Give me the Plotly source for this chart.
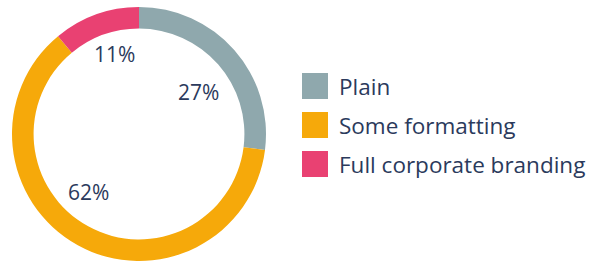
import plotly.graph_objects as go

categories = ["Plain", "Some formatting", "Full corporate branding"]
values = [27, 62, 11]
colors = ["#8fa8ad", "#f6a90a", "#e94172"]
pct_labels = ["27%", "62%", "11%"]

W, H = 592, 261
TEXT = "#2b3a5c"
FONT = "Open Sans"

# pixel helpers (layout only)
def px(x):
    return x / W

def py(y):
    return 1 - y / H

fig = go.Figure()
fig.add_trace(go.Pie(
    labels=categories,
    values=values,
    marker=dict(colors=colors, line=dict(width=0)),
    hole=0.83,
    sort=False,
    direction="clockwise",
    rotation=0,
    textinfo="none",
    hoverinfo="label+percent",
    showlegend=False,
    domain=dict(x=[px(12), px(266)], y=[py(261), py(7)]),
))

# percentage labels inside the ring (layout positions in pixels)
label_pos = [(198, 92), (88, 192), (114, 54)]
annotations = []
for txt, (x, y) in zip(pct_labels, label_pos):
    annotations.append(dict(x=px(x), y=py(y), xref="paper", yref="paper",
                            text=txt, showarrow=False,
                            font=dict(family=FONT, size=21, color=TEXT),
                            xanchor="center", yanchor="middle"))

# custom legend
shapes = []
row_y = [86, 125, 164]
for cat, col, y in zip(categories, colors, row_y):
    shapes.append(dict(type="rect", xref="paper", yref="paper",
                       x0=px(302), x1=px(328), y0=py(y + 13), y1=py(y - 13),
                       fillcolor=col, line=dict(width=0)))
    annotations.append(dict(x=px(337), y=py(y), xref="paper", yref="paper",
                            text=cat, showarrow=False,
                            font=dict(family=FONT, size=22.5, color=TEXT),
                            xanchor="left", yanchor="middle"))

fig.update_layout(
    width=W, height=H,
    margin=dict(l=0, r=0, t=0, b=0),
    paper_bgcolor="white", plot_bgcolor="white",
    annotations=annotations, shapes=shapes,
)

fig.write_html("out.html", config={"displayModeBar": False},
               post_script="document.body.style.margin='0';document.body.style.overflow='hidden';")
